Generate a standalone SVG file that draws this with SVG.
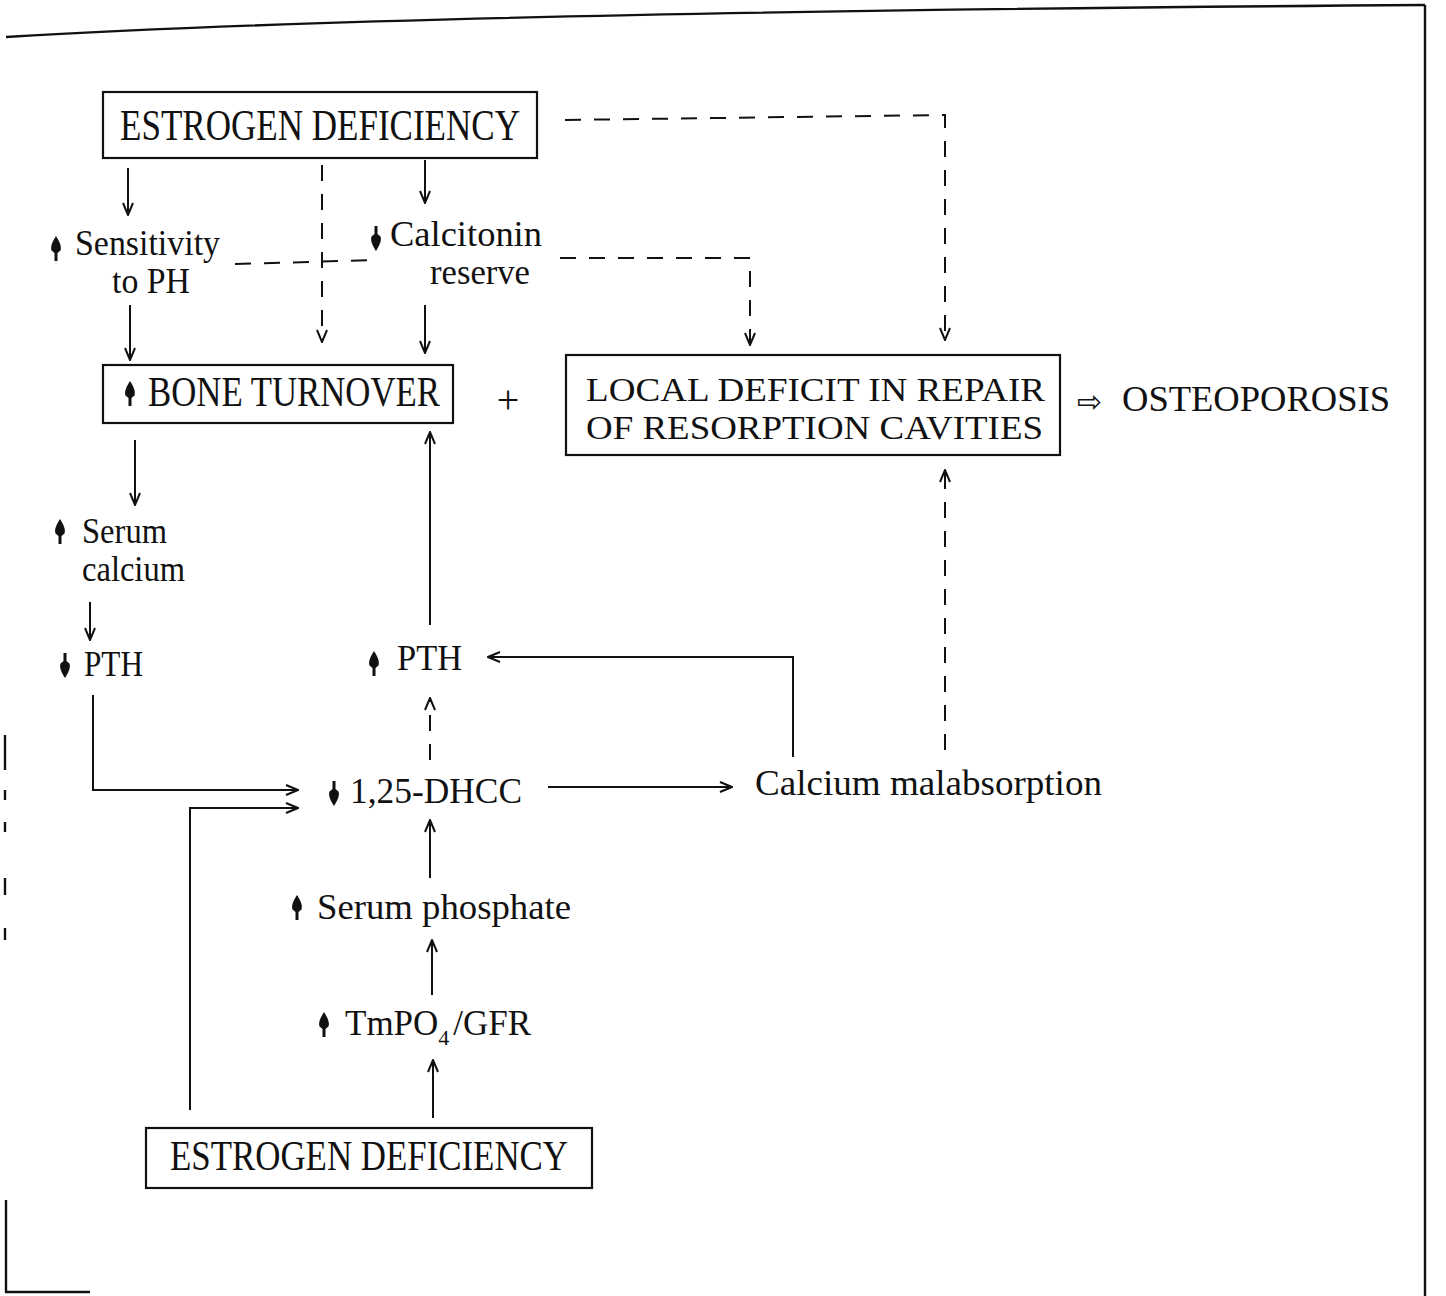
<svg xmlns="http://www.w3.org/2000/svg" width="1446" height="1296" viewBox="0 0 1446 1296">
<style>
.t{font-family:"Liberation Serif","Times New Roman",serif;font-size:35px;fill:#111}
.b{font-family:"Liberation Serif","Times New Roman",serif;font-size:36px;fill:#111}
.box{fill:none;stroke:#111;stroke-width:2.2}
.c{fill:none;stroke:#111;stroke-width:2}
.d{fill:none;stroke:#111;stroke-width:2;stroke-dasharray:16 13}
.fr{fill:none;stroke:#111;stroke-width:2.4}
.sym{fill:#111}
</style>
<defs>
<marker id="ah" viewBox="0 0 14 12" refX="13" refY="6" markerWidth="14" markerHeight="12" markerUnits="userSpaceOnUse" orient="auto">
<path d="M1,1 L13,6 L1,11" fill="none" stroke="#111" stroke-width="2"/>
</marker>
<path id="up" d="M0,-13 C3,-8 6,-3 4.5,1.5 L1.5,4 L1.5,12 L-1.5,12 L-1.5,4 L-4.5,1.5 C-6,-3 -3,-8 0,-13 Z"/>
</defs>

<g id="frame">
<path class="fr" d="M6,37 Q420,12 1425,5"/>
<path class="fr" d="M1425,5 V1296"/>
<path class="fr" d="M6,1200 V1292 H90"/>
<path class="fr" d="M5,735 V770 M5,790 V800 M5,822 V832 M5,878 V895 M5,928 V940"/>
</g>

<g id="connectors">
<path class="c" d="M128,168 V215" marker-end="url(#ah)"/>
<path class="d" d="M322,165 V342" marker-end="url(#ah)"/>
<path class="c" d="M425,160 V203" marker-end="url(#ah)"/>
<path class="c" d="M130,305 V360" marker-end="url(#ah)"/>
<path class="c" d="M425,305 V353" marker-end="url(#ah)"/>
<path class="d" d="M235,264 L378,260"/>
<path class="d" d="M560,258 H750 V345" marker-end="url(#ah)"/>
<path class="d" d="M565,120 L945,115 V340" marker-end="url(#ah)"/>
<path class="c" d="M135,440 V505" marker-end="url(#ah)"/>
<path class="c" d="M90,602 V640" marker-end="url(#ah)"/>
<path class="c" d="M93,695 V790 H298" marker-end="url(#ah)"/>
<path class="c" d="M190,1110 V808 H298" marker-end="url(#ah)"/>
<path class="c" d="M430,625 V432" marker-end="url(#ah)"/>
<path class="d" d="M430,760 V698" marker-end="url(#ah)"/>
<path class="c" d="M548,787 H732" marker-end="url(#ah)"/>
<path class="c" d="M793,757 V657 H488" marker-end="url(#ah)"/>
<path class="d" d="M945,750 V470" marker-end="url(#ah)"/>
<path class="c" d="M430,878 V820" marker-end="url(#ah)"/>
<path class="c" d="M432,995 V940" marker-end="url(#ah)"/>
<path class="c" d="M433,1118 V1060" marker-end="url(#ah)"/>
</g>

<g id="n-estrogen-top">
<rect class="box" x="103" y="92" width="434" height="66"/>
<text class="b" transform="translate(120,140) scale(1,1.25)" x="0" y="0" textLength="400" lengthAdjust="spacingAndGlyphs">ESTROGEN DEFICIENCY</text>
</g>

<g id="n-sensitivity">
<use href="#up" class="sym" x="56" y="249"/>
<text class="t" x="75" y="255" textLength="145" lengthAdjust="spacingAndGlyphs">Sensitivity</text>
<text class="t" x="112" y="293" textLength="78" lengthAdjust="spacingAndGlyphs">to PH</text>
</g>

<g id="n-calcitonin">
<use href="#up" class="sym" transform="translate(376,238) rotate(180)"/>
<text class="t" x="390" y="246" textLength="152" lengthAdjust="spacingAndGlyphs">Calcitonin</text>
<text class="t" x="430" y="284" textLength="100" lengthAdjust="spacingAndGlyphs">reserve</text>
</g>

<g id="n-bone-turnover">
<rect class="box" x="103" y="365" width="350" height="58"/>
<use href="#up" class="sym" x="130" y="394"/>
<text class="b" transform="translate(148,406) scale(1,1.2)" x="0" y="0" textLength="292" lengthAdjust="spacingAndGlyphs">BONE TURNOVER</text>
</g>

<g id="n-plus">
<text class="t" x="508" y="413" text-anchor="middle" style="font-size:40px">+</text>
</g>

<g id="n-local-deficit">
<rect class="box" x="566" y="355" width="494" height="100"/>
<text class="t" x="586" y="401" textLength="459" lengthAdjust="spacingAndGlyphs" style="font-size:33px">LOCAL DEFICIT IN REPAIR</text>
<text class="t" x="586" y="439" textLength="457" lengthAdjust="spacingAndGlyphs" style="font-size:33px">OF RESORPTION CAVITIES</text>
</g>

<g id="n-osteoporosis">
<text x="1077" y="412" style="font-family:'DejaVu Sans',sans-serif;font-size:30px;fill:#111">⇨</text>
<text class="t" x="1122" y="411" textLength="268" lengthAdjust="spacingAndGlyphs">OSTEOPOROSIS</text>
</g>

<g id="n-serum-calcium">
<use href="#up" class="sym" x="60" y="532"/>
<text class="t" x="82" y="543" textLength="85" lengthAdjust="spacingAndGlyphs">Serum</text>
<text class="t" x="82" y="581" textLength="103" lengthAdjust="spacingAndGlyphs">calcium</text>
</g>

<g id="n-pth-left">
<use href="#up" class="sym" transform="translate(65,665) rotate(180)"/>
<text class="t" x="84" y="676" textLength="59" lengthAdjust="spacingAndGlyphs">PTH</text>
</g>

<g id="n-pth-mid">
<use href="#up" class="sym" x="374" y="664"/>
<text class="t" x="397" y="670" textLength="65" lengthAdjust="spacingAndGlyphs">PTH</text>
</g>

<g id="n-dhcc">
<use href="#up" class="sym" transform="translate(334,793) rotate(180)"/>
<text class="t" x="350" y="803" textLength="172" lengthAdjust="spacingAndGlyphs">1,25-DHCC</text>
</g>

<g id="n-calcium-malabsorption">
<text class="t" x="755" y="795" textLength="347" lengthAdjust="spacingAndGlyphs">Calcium malabsorption</text>
</g>

<g id="n-serum-phosphate">
<use href="#up" class="sym" x="297" y="908"/>
<text class="t" x="317" y="919" textLength="254" lengthAdjust="spacingAndGlyphs">Serum phosphate</text>
</g>

<g id="n-tmpo4">
<use href="#up" class="sym" x="324" y="1025"/>
<text class="t" x="345" y="1035">TmPO<tspan dy="10" style="font-size:22px">4</tspan><tspan dx="4" dy="-10">/GFR</tspan></text>
</g>

<g id="n-estrogen-bottom">
<rect class="box" x="146" y="1128" width="446" height="60"/>
<text class="b" transform="translate(170,1170) scale(1,1.15)" x="0" y="0" textLength="398" lengthAdjust="spacingAndGlyphs">ESTROGEN DEFICIENCY</text>
</g>
</svg>
